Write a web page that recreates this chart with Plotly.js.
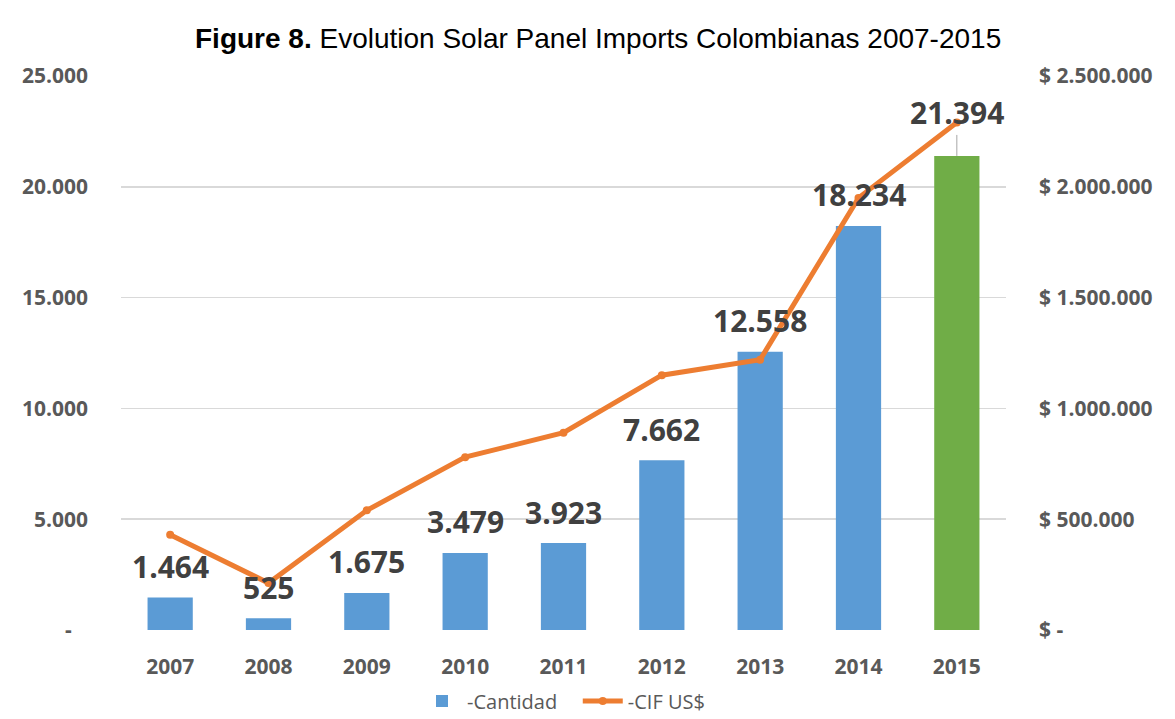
<!DOCTYPE html>
<html>
<head>
<meta charset="utf-8">
<script src="https://cdn.plot.ly/plotly-3.0.1.min.js"></script>
<style>html,body{margin:0;padding:0;background:#fff;}#chart{width:1175px;height:719px;}</style>
</head>
<body>
<div id="chart"></div>
<script>
var years = ['2007','2008','2009','2010','2011','2012','2013','2014','2015'];
var cantidad = [1464, 525, 1675, 3479, 3923, 7662, 12558, 18234, 21394];
var cantidadLabels = ['1.464','525','1.675','3.479','3.923','7.662','12.558','18.234','21.394'];
var cifUSD = [430000, 212000, 540000, 780000, 890000, 1150000, 1220000, 1950000, 2290000];
var barColors = ['#5B9BD5','#5B9BD5','#5B9BD5','#5B9BD5','#5B9BD5','#5B9BD5','#5B9BD5','#5B9BD5','#70AD47'];
var leftTickVals = [0, 5000, 10000, 15000, 20000, 25000];
var leftTickText = ['-\u00a0\u00a0\u00a0', '5.000', '10.000', '15.000', '20.000', '25.000'];
var rightTickVals = [0, 500000, 1000000, 1500000, 2000000, 2500000];
var rightTickText = ['$ -', '$ 500.000', '$ 1.000.000', '$ 1.500.000', '$ 2.000.000', '$ 2.500.000'];

var tickFont = {family: 'Open Sans, Noto Sans, sans-serif', size: 21, color: '#595959', weight: 'bold'};

var traces = [
  {
    type: 'bar', x: years, y: cantidad, name: '-Cantidad\u00a0\u00a0\u00a0',
    marker: {color: barColors}, width: 0.46, hoverinfo: 'x+y'
  },
  {
    type: 'scatter', mode: 'lines+markers', x: years, y: cifUSD, yaxis: 'y2', name: '-CIF US$',
    line: {color: '#ED7D31', width: 5}, marker: {color: '#ED7D31', size: 8}
  }
];

var annotations = years.map(function(yr, i){
  var last = (i === years.length - 1);
  var a = {
    x: i, y: cantidad[i], xref: 'x', yref: 'y', text: cantidadLabels[i],
    font: {family: 'Open Sans, Noto Sans, sans-serif', size: 30, color: '#404040', weight: 'bold'}
  };
  if (last) {
    a.showarrow = true; a.arrowhead = 0; a.ax = 0; a.ay = -43; a.arrowcolor = '#A6A6A6'; a.arrowwidth = 1; a.standoff = 0;
  } else {
    a.showarrow = false; a.yanchor = 'middle'; a.yshift = 31;
  }
  return a;
});
annotations.push({
  xref: 'paper', yref: 'paper', x: 0.539, y: 1.0, yshift: 38, showarrow: false, xanchor: 'center', yanchor: 'middle',
  text: '<b>Figure 8.</b> Evolution Solar Panel Imports Colombianas 2007-2015',
  font: {family: 'Liberation Sans, Arial, sans-serif', size: 28, color: '#000000'}
});

var layout = {
  width: 1175, height: 719,
  margin: {l: 121, r: 169, t: 76, b: 89, autoexpand: false},
  paper_bgcolor: '#ffffff', plot_bgcolor: '#ffffff',
  showlegend: true,
  legend: {orientation: 'h', x: 0.5, xanchor: 'center', y: -0.128, yanchor: 'middle', itemwidth: 40,
    font: {family: 'Open Sans, Noto Sans, sans-serif', size: 20, color: '#595959'}},
  bargap: 0.54,
  xaxis: {type: 'category', showgrid: false, zeroline: false, showline: false, ticks: '',
    tickfont: tickFont, ticklabelstandoff: 22, range: [-0.5, 8.5], automargin: false},
  yaxis: {range: [0, 25000], tickvals: leftTickVals, ticktext: leftTickText, showgrid: true,
    gridcolor: '#D9D9D9', gridwidth: 1.5, zeroline: false, showline: false, ticks: '',
    tickfont: tickFont, ticklabelstandoff: 32, automargin: false},
  yaxis2: {range: [0, 2500000], overlaying: 'y', side: 'right', tickvals: rightTickVals, ticktext: rightTickText,
    showgrid: false, zeroline: false, showline: false, ticks: '', tickfont: tickFont, ticklabelstandoff: 32, automargin: false},
  annotations: annotations
};

Plotly.newPlot('chart', traces, layout, {displayModeBar: false, staticPlot: true});
</script>
</body>
</html>
